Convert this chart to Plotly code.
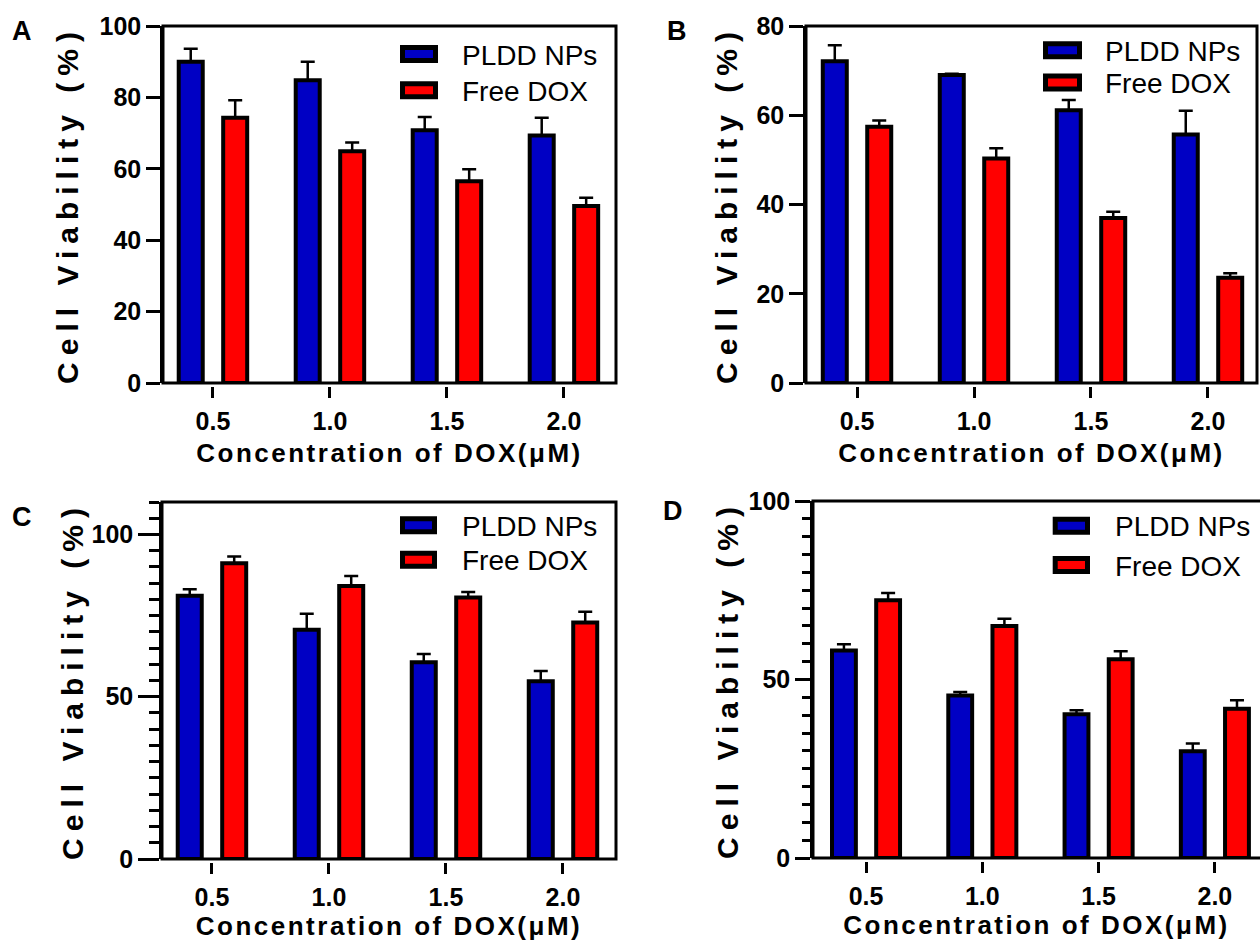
import plotly.graph_objects as go

# ---------------- data ----------------
concentrations = ["0.5", "1.0", "1.5", "2.0"]
series_names = ["PLDD NPs", "Free DOX"]
panel_labels = ["A", "B", "C", "D"]

a_pldd = [90.0, 84.8, 70.8, 69.3]
a_pldd_err = [3.6, 5.2, 3.7, 5.0]
a_dox = [74.3, 64.9, 56.5, 49.6]
a_dox_err = [4.9, 2.5, 3.4, 2.3]

b_pldd = [72.1, 69.0, 61.1, 55.7]
b_pldd_err = [3.6, 0.3, 2.3, 5.3]
b_dox = [57.4, 50.3, 37.0, 23.6]
b_dox_err = [1.4, 2.3, 1.4, 1.0]

c_pldd = [81.1, 70.6, 60.6, 54.8]
c_pldd_err = [2.0, 5.0, 2.6, 3.1]
c_dox = [91.1, 84.1, 80.6, 72.9]
c_dox_err = [2.1, 3.1, 1.7, 3.3]

d_pldd = [58.1, 45.5, 40.3, 29.9]
d_pldd_err = [1.8, 1.0, 1.1, 2.2]
d_dox = [72.2, 65.0, 55.7, 41.8]
d_dox_err = [2.0, 2.0, 2.2, 2.4]

x_title = "Concentration of DOX(μM)"
y_title = "Cell Viability (%)"

# ---------------- style ----------------
W, H = 1260, 943
BLUE = "#0000C4"
RED = "#FF0000"
FONT = "Liberation Sans, Arial, Helvetica, sans-serif"


def px(x):
    return x / W


def py(y):
    return (H - y) / H


panels = [
    dict(data=(a_pldd, a_pldd_err, a_dox, a_dox_err), xl=163, xr=616, yt=26, yb=383,
         xr_rng=(-0.427, 3.445), yrng=(0, 100), yticks=[0, 20, 40, 60, 80, 100], minor=None,
         ticklen=14, xpos=386, xstand=9, ystand=13, xr1=1.0,
         leg=dict(sx=(402.5, 435.5), rows=(54, 90.3), tx=460), lab=(10, 30.5)),
    dict(data=(b_pldd, b_pldd_err, b_dox, b_dox_err), xl=806, xr=1257, yt=26, yb=383,
         xr_rng=(-0.436, 3.419), yrng=(0, 80), yticks=[0, 20, 40, 60, 80], minor=None,
         ticklen=14, xpos=386, xstand=9, ystand=10, xr1=1.0,
         leg=dict(sx=(1045.5, 1079.5), rows=(50.3, 82.5), tx=1103), lab=(665, 30)),
    dict(data=(c_pldd, c_pldd_err, c_dox, c_dox_err), xl=162, xr=616, yt=502, yb=859,
         xr_rng=(-0.427, 3.453), yrng=(0, 110), yticks=[0, 50, 100], minor=(5, 10),
         ticklen=21, xpos=862, xstand=5, ystand=0, xr1=1.0,
         leg=dict(sx=(402.5, 434.5), rows=(525.3, 559.7), tx=460), lab=(10, 516)),
    dict(data=(d_pldd, d_pldd_err, d_dox, d_dox_err), xl=813, xr=1260, yt=501, yb=858,
         xr_rng=(-0.456, 3.388), yrng=(0, 100), yticks=[0, 50, 100], minor=(5, 8),
         ticklen=15, xpos=861, xstand=0, ystand=2, xr1=1.06,
         leg=dict(sx=(1055.2, 1087.5), rows=(525.8, 565), tx=1113), lab=(661, 510)),
]

fig = go.Figure()
shapes = []
annotations = []
xs = list(range(len(concentrations)))

for i, p in enumerate(panels):
    n = "" if i == 0 else str(i + 1)
    xa, ya = "x" + n, "y" + n
    pl, ple, dx, dxe = p["data"]
    for vals, errs, color, name in ((pl, ple, BLUE, series_names[0]), (dx, dxe, RED, series_names[1])):
        fig.add_trace(go.Bar(
            x=xs, y=vals, name=name, xaxis=xa, yaxis=ya, showlegend=False,
            marker=dict(color=color, line=dict(color="black", width=4)),
            error_y=dict(type="data", symmetric=False, array=errs, arrayminus=[0] * len(errs),
                         color="black", thickness=2.5, width=7),
        ))

    xkey = "xaxis" + n
    ykey = "yaxis" + n
    fig.layout[xkey] = dict(
        domain=[px(p["xl"]), px(p["xr"])], range=list(p["xr_rng"]), anchor="free",
        position=py(p["xpos"]), showline=False, showgrid=False, zeroline=False,
        automargin=False,
        tickmode="array", tickvals=xs, ticktext=concentrations,
        ticks="outside", ticklen=11, tickwidth=2.5, tickcolor="black",
        ticklabelstandoff=2,
        tickfont=dict(family=FONT, size=25, color="black", weight="bold"),
        title=dict(text=x_title, standoff=p["xstand"],
                   font=dict(family=FONT, size=26, color="black", weight="bold")),
        fixedrange=True,
    )
    yd = dict(
        domain=[py(p["yb"]), py(p["yt"])], range=list(p["yrng"]), anchor=xa,
        showline=True, linewidth=2.5, linecolor="black", showgrid=False, zeroline=False,
        automargin=False,
        tickmode="array", tickvals=p["yticks"],
        ticks="outside", ticklen=p["ticklen"], tickwidth=2.5, tickcolor="black",
        tickfont=dict(family=FONT, size=25, color="black", weight="bold"),
        title=dict(text=y_title, standoff=p["ystand"],
                   font=dict(family=FONT, size=30, color="black", weight="bold")),
        fixedrange=True,
    )
    if p["minor"]:
        yd["minor"] = dict(dtick=p["minor"][0], ticklen=p["minor"][1], tickwidth=2.5,
                           tickcolor="black", ticks="outside", showgrid=False)
    fig.layout[ykey] = yd

    # frame
    shapes.append(dict(type="rect", xref=xa + " domain", yref=ya + " domain",
                       x0=0, x1=p["xr1"], y0=0, y1=1, line=dict(color="black", width=3),
                       fillcolor="rgba(0,0,0,0)", layer="above"))

    # legend (swatches + labels)
    lg = p["leg"]
    for row_y, color, name in zip(lg["rows"], (BLUE, RED), series_names):
        shapes.append(dict(type="rect", xref="paper", yref="paper",
                           x0=px(lg["sx"][0]), x1=px(lg["sx"][1]),
                           y0=py(row_y + 6.5), y1=py(row_y - 6.5),
                           fillcolor=color, line=dict(color="black", width=5), layer="above"))
        annotations.append(dict(xref="paper", yref="paper", x=px(lg["tx"]), y=py(row_y + 1),
                                xanchor="left", yanchor="middle", showarrow=False, text=name,
                                font=dict(family=FONT, size=28, color="black")))

    # panel label
    annotations.append(dict(xref="paper", yref="paper", x=px(p["lab"][0]), y=py(p["lab"][1] + 1),
                            xanchor="left", yanchor="middle", showarrow=False, text=panel_labels[i],
                            font=dict(family=FONT, size=27, color="black", weight="bold")))

fig.update_layout(
    width=W, height=H, margin=dict(l=0, r=0, t=0, b=0, autoexpand=False),
    paper_bgcolor="white", plot_bgcolor="white",
    barmode="group", bargap=0.24, bargroupgap=0.46,
    shapes=shapes, annotations=annotations, showlegend=False,
    font=dict(family=FONT, color="black"),
)

post = (
    "var s=document.createElement('style');"
    "s.textContent='html,body{margin:0;padding:0;overflow:hidden}"
    ".ytitle,.y2title,.y3title,.y4title{letter-spacing:7px}"
    ".xtitle,.x2title,.x3title,.x4title{letter-spacing:2.5px}';"
    "document.head.appendChild(s);"
)

fig.write_html("out.html", post_script=post, config=dict(displayModeBar=False))
